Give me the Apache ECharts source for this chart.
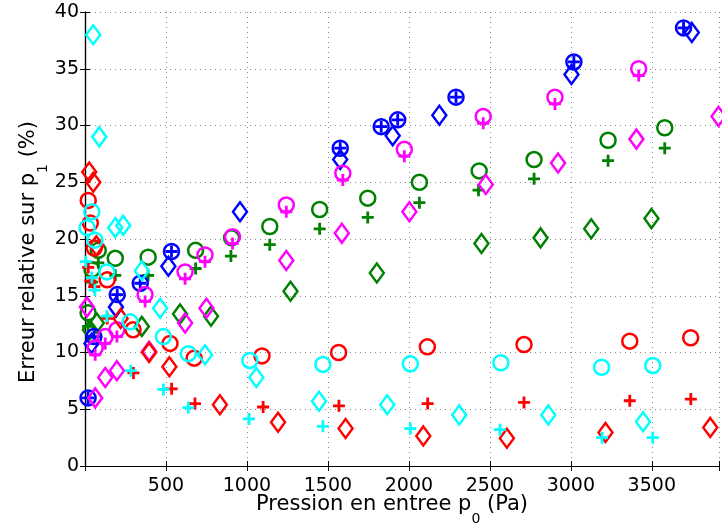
<!DOCTYPE html>
<html><head><meta charset="utf-8">
<script src="https://cdn.jsdelivr.net/npm/echarts@6/dist/echarts.min.js"></script>
<style>html,body{margin:0;padding:0;background:#fff}#c{width:722px;height:527px}</style>
</head><body><div id="c"></div>
<script>
// ---- data (x: pressure p0 in Pa, y: relative error in %) ----
const redCircleX = [20, 33, 57, 137, 297, 525, 674, 1093, 1566, 2114, 2711, 3364, 3740];
const redCircleY = [23.4, 21.4, 19.2, 16.4, 12.0, 10.8, 9.5, 9.7, 10.0, 10.5, 10.7, 11.0, 11.3];
const redPlusX = [20, 33, 57, 137, 299, 535, 679, 1100, 1568, 2116, 2711, 3364, 3741];
const redPlusY = [17.5, 16.3, 15.8, 13.0, 8.2, 6.8, 5.5, 5.2, 5.3, 5.5, 5.6, 5.75, 5.9];
const redDiamondX = [26, 51, 70, 220, 396, 521, 833, 1192, 1609, 2089, 2605, 3214, 3861];
const redDiamondY = [25.9, 25.0, 19.4, 13.0, 10.0, 8.75, 5.4, 3.85, 3.3, 2.65, 2.45, 2.95, 3.4];

const greenCircleX = [19, 43, 82, 187, 390, 683, 905, 1141, 1449, 1746, 2065, 2434, 2773, 3230, 3580];
const greenCircleY = [13.5, 17.3, 19.0, 18.3, 18.4, 19.0, 20.1, 21.1, 22.6, 23.6, 25.0, 26.0, 27.0, 28.7, 29.8];
const greenPlusX = [19, 43, 82, 187, 390, 683, 901, 1141, 1449, 1746, 2065, 2430, 2773, 3230, 3580];
const greenPlusY = [12.3, 16.2, 17.9, 16.8, 16.8, 17.4, 18.5, 19.5, 20.9, 21.9, 23.2, 24.3, 25.3, 26.9, 28.0];
const greenDiamondX = [30, 73, 351, 587, 778, 1269, 1802, 2448, 2813, 3126, 3498];
const greenDiamondY = [12.0, 12.6, 12.3, 13.4, 13.2, 15.4, 17.0, 19.6, 20.1, 20.9, 21.8];

const blueCircleX = [19, 55, 199, 341, 534, 1576, 1829, 1931, 2291, 3019, 3696];
const blueCircleY = [6.0, 11.4, 15.1, 16.1, 18.9, 28.0, 29.9, 30.5, 32.5, 35.6, 38.6];
const bluePlusX = [19, 55, 199, 341, 534, 1576, 1829, 1931, 2291, 3019, 3696];
const bluePlusY = [6.0, 11.4, 15.1, 16.1, 18.9, 28.0, 29.9, 30.5, 32.5, 35.6, 38.6];
const blueDiamondX = [40, 191, 515, 957, 1576, 1900, 2188, 3004, 3747];
const blueDiamondY = [10.8, 14.0, 17.6, 22.4, 27.0, 29.1, 30.9, 34.5, 38.2];

const magentaCircleX = [63, 125, 197, 371, 618, 741, 911, 1243, 1592, 1972, 2459, 2902, 3419];
const magentaCircleY = [10.4, 11.4, 12.0, 15.1, 17.1, 18.6, 20.2, 23.0, 25.8, 27.9, 30.8, 32.5, 35.0];
const magentaPlusX = [63, 125, 197, 371, 618, 741, 911, 1243, 1592, 1972, 2459, 2902, 3419];
const magentaPlusY = [9.8, 10.8, 11.4, 14.5, 16.5, 18.0, 19.6, 22.4, 25.2, 27.3, 30.2, 31.9, 34.4];
const magentaDiamondX = [12, 63, 125, 197, 396, 618, 750, 1243, 1586, 2003, 2475, 2921, 3405, 3912];
const magentaDiamondY = [14.0, 6.0, 7.8, 8.4, 10.1, 12.6, 13.9, 18.1, 20.5, 22.4, 24.8, 26.7, 28.8, 30.8];

const cyanCircleX = [13, 42, 61, 135, 279, 484, 638, 1018, 1469, 2009, 2568, 3190, 3506];
const cyanCircleY = [21.0, 22.4, 19.9, 17.1, 12.7, 11.4, 9.9, 9.3, 8.95, 9.0, 9.1, 8.7, 8.85];
const cyanPlusX = [5, 42, 61, 135, 283, 484, 638, 1013, 1469, 2009, 2563, 3193, 3506];
const cyanPlusY = [18.0, 16.6, 15.5, 13.2, 8.4, 6.75, 5.15, 4.15, 3.5, 3.3, 3.2, 2.5, 2.5];
const cyanDiamondX = [51, 88, 187, 236, 351, 464, 741, 1058, 1445, 1866, 2311, 2861, 3446];
const cyanDiamondY = [38.0, 29.0, 21.0, 21.2, 17.2, 13.9, 9.8, 7.8, 5.7, 5.4, 4.5, 4.5, 3.9];

const xTicks = [500, 1000, 1500, 2000, 2500, 3000, 3500];
const yTicks = [0, 5, 10, 15, 20, 25, 30, 35, 40];

// ---- styles ----
const COLORS = {red: '#ff0000', green: '#008000', blue: '#0000ff', magenta: '#ff00ff', cyan: '#00ffff'};
const PLUS = 'path://M0,6H12M6,0V12';
function zip(xs, ys) { return xs.map((x, i) => [x, ys[i]]); }
function ser(name, color, kind, xs, ys) {
  let symbol, size, bw;
  if (kind === 'o') { symbol = 'circle'; size = 15; bw = 2.5; }
  else if (kind === '+') { symbol = PLUS; size = 12; bw = 2.8; }
  else { symbol = 'diamond'; size = [14, 19]; bw = 2.5; }
  return {
    name, type: 'scatter', data: zip(xs, ys), symbol, symbolSize: size,
    itemStyle: {color: 'rgba(0,0,0,0)', borderColor: color, borderWidth: bw, opacity: 1},
    emphasis: {disabled: true}, silent: true, animation: false, z: 5
  };
}

const series = [
  ser('green o', COLORS.green, 'o', greenCircleX, greenCircleY),
  ser('green +', COLORS.green, '+', greenPlusX, greenPlusY),
  ser('green d', COLORS.green, 'd', greenDiamondX, greenDiamondY),
  ser('blue o', COLORS.blue, 'o', blueCircleX, blueCircleY),
  ser('blue +', COLORS.blue, '+', bluePlusX, bluePlusY),
  ser('blue d', COLORS.blue, 'd', blueDiamondX, blueDiamondY),
  ser('magenta o', COLORS.magenta, 'o', magentaCircleX, magentaCircleY),
  ser('magenta +', COLORS.magenta, '+', magentaPlusX, magentaPlusY),
  ser('magenta d', COLORS.magenta, 'd', magentaDiamondX, magentaDiamondY),
  ser('red o', COLORS.red, 'o', redCircleX, redCircleY),
  ser('red +', COLORS.red, '+', redPlusX, redPlusY),
  ser('red d', COLORS.red, 'd', redDiamondX, redDiamondY),
  ser('cyan o', COLORS.cyan, 'o', cyanCircleX, cyanCircleY),
  ser('cyan +', COLORS.cyan, '+', cyanPlusX, cyanPlusY),
  ser('cyan d', COLORS.cyan, 'd', cyanDiamondX, cyanDiamondY)
];

const FONT = 'DejaVu Sans';
const gridLine = {show: true, lineStyle: {color: '#8a8a8a', width: 1, type: [1, 4]}};
const chart = echarts.init(document.getElementById('c'), null, {renderer: 'canvas'});
chart.setOption({
  animation: false,
  backgroundColor: '#fff',
  grid: {left: 85, right: 1, top: 12, bottom: 61, containLabel: false},
  xAxis: [
    {type: 'value', min: 0, max: 3915, interval: 500, position: 'bottom',
     axisLine: {show: true, onZero: false, lineStyle: {color: '#000', width: 1.2}},
     axisTick: {show: true, inside: true, length: 5, lineStyle: {color: '#000'}},
     axisLabel: {show: true, color: '#000', fontFamily: FONT, fontSize: 19, margin: 11,
       formatter: v => (xTicks.indexOf(v) >= 0 ? String(v) : '')},
     splitLine: gridLine},
    {type: 'value', min: 0, max: 3915, interval: 500, position: 'top',
     axisLine: {show: true, lineStyle: {color: '#000', width: 1.2}},
     axisTick: {show: true, inside: true, length: 5, lineStyle: {color: '#000'}},
     axisLabel: {show: false}, splitLine: {show: false}}
  ],
  yAxis: [
    {type: 'value', min: 0, max: 40, interval: 5, position: 'left',
     axisLine: {show: true, onZero: false, lineStyle: {color: '#000', width: 1.2}},
     axisTick: {show: true, inside: true, length: 5, lineStyle: {color: '#000'}},
     axisLabel: {show: true, color: '#000', fontFamily: FONT, fontSize: 19, margin: 6,
       formatter: v => (yTicks.indexOf(v) >= 0 ? String(v) : '')},
     splitLine: gridLine},
    {type: 'value', min: 0, max: 40, interval: 5, position: 'right',
     axisLine: {show: true, lineStyle: {color: '#000', width: 1.2}},
     axisTick: {show: true, inside: true, length: 5, lineStyle: {color: '#000'}},
     axisLabel: {show: false}, splitLine: {show: false}}
  ],
  graphic: [
    {type: 'text', x: 392, y: 505, z: 10, silent: true,
     style: {text: '{a|Pression en entree p}{s|0}{a| (Pa)}', fill: '#000',
       align: 'center', verticalAlign: 'middle',
       rich: {a: {fontFamily: FONT, fontSize: 21, fill: '#000'},
              s: {fontFamily: FONT, fontSize: 14, fill: '#000', padding: [28, 0, 0, 0]}}}},
    {type: 'text', x: 29, y: 252, rotation: Math.PI / 2, z: 10, silent: true,
     style: {text: '{a|Erreur relative sur p}{s|1}{a| (%)}', fill: '#000',
       align: 'center', verticalAlign: 'middle',
       rich: {a: {fontFamily: FONT, fontSize: 21, fill: '#000'},
              s: {fontFamily: FONT, fontSize: 14, fill: '#000', padding: [28, 0, 0, 0]}}}}
  ],
  series
});
</script></body></html>
